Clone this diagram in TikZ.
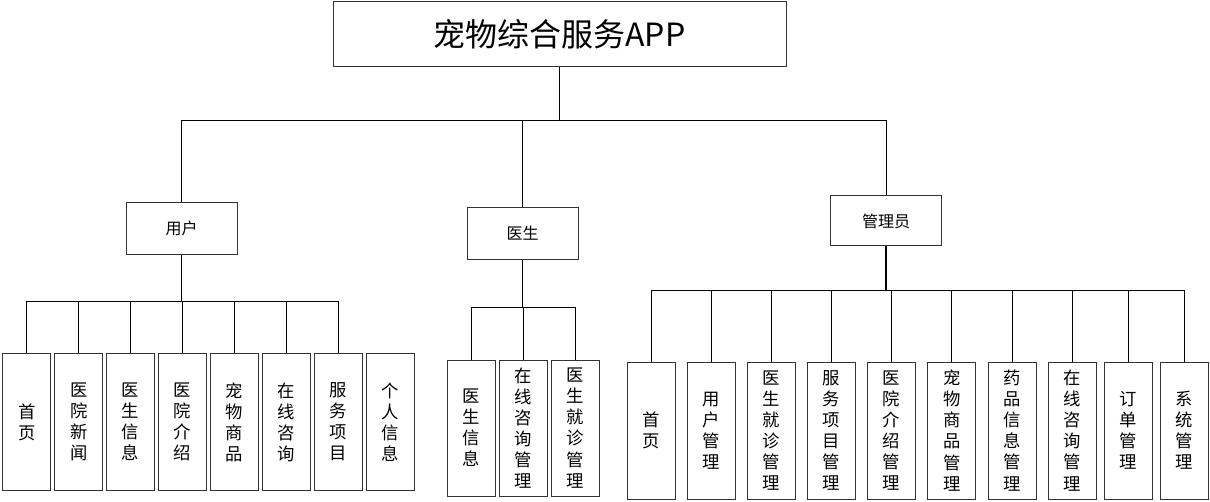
\documentclass[tikz,border=0pt]{standalone}
\usepackage{fontspec}
\setmainfont{Noto Sans CJK SC}
\begin{document}
\begin{tikzpicture}[x=0.75pt,y=-0.75pt,
  box/.style={draw=black!80,line width=0.75pt,rectangle,inner sep=0pt,align=center},
  rootbox/.style={box,minimum width=453*0.75pt,minimum height=65*0.75pt,font=\fontsize{24}{28}\selectfont},
  midbox/.style={box,minimum width=111*0.75pt,minimum height=52*0.75pt,font=\fontsize{12}{14}\selectfont},
  leaf/.style={box,minimum width=48*0.75pt,minimum height=137*0.75pt,font=\fontsize{13}{15.8}\selectfont},
  conn/.style={draw=black,line width=0.75pt},
  thick conn/.style={draw=black,line width=1.3pt}]
\useasboundingbox (0,0) rectangle (1210,502);
% root
\node[rootbox] (root) at (559.5,34.5) {宠物综合服务APP};
% level 2
\node[midbox] (user) at (181.5,228.5) {用户};
\node[midbox] (doc) at (522.5,233.5) {医生};
\node[midbox,minimum height=50*0.75pt] (adm) at (886,221) {管理员};
\coordinate (rb) at (559.5,121);
\draw[thick conn] (root.south) -- (rb);
\draw[conn] (rb) -| (user.north);
\draw[conn] (rb) -| (doc.north);
\draw[conn] (rb) -| (adm.north);
% user leaves
\node[leaf] (u1) at (26.7,422) {首\\页};
\node[leaf] (u2) at (78.7,422) {医\\院\\新\\闻};
\node[leaf] (u3) at (130.5,422) {医\\生\\信\\息};
\node[leaf] (u4) at (182.3,422) {医\\院\\介\\绍};
\node[leaf] (u5) at (234.2,422) {宠\\物\\商\\品};
\node[leaf] (u6) at (286,422) {在\\线\\咨\\询};
\node[leaf] (u7) at (338,422) {服\\务\\项\\目};
\node[leaf] (u8) at (390,422) {个\\人\\信\\息};
\coordinate (ub) at (181.5,301.5);
\draw[thick conn] (user.south) -- (ub);
\foreach \i in {1,...,7} \draw[conn] (ub) -| (u\i.north);
% doctor leaves
\node[leaf,minimum height=136*0.75pt] (d1) at (471,428) {医\\生\\信\\息};
\node[leaf,minimum height=136*0.75pt] (d2) at (523,428) {在\\线\\咨\\询\\管\\理};
\node[leaf,minimum height=136*0.75pt] (d3) at (575,428) {医\\生\\就\\诊\\管\\理};
\coordinate (db) at (522.5,307.5);
\draw[thick conn] (doc.south) -- (db);
\foreach \i in {1,2,3} \draw[conn] (db) -| (d\i.north);
% admin leaves
\node[leaf] (a1) at (651.5,430.5) {首\\页};
\node[leaf] (a2) at (711,430.5) {用\\户\\管\\理};
\node[leaf] (a3) at (771.3,430.5) {医\\生\\就\\诊\\管\\理};
\node[leaf] (a4) at (831.5,430.5) {服\\务\\项\\目\\管\\理};
\node[leaf] (a5) at (891.5,430.5) {医\\院\\介\\绍\\管\\理};
\node[leaf] (a6) at (951.8,430.5) {宠\\物\\商\\品\\管\\理};
\node[leaf] (a7) at (1012,430.5) {药\\品\\信\\息\\管\\理};
\node[leaf] (a8) at (1072.3,430.5) {在\\线\\咨\\询\\管\\理};
\node[leaf] (a9) at (1128.5,430.5) {订\\单\\管\\理};
\node[leaf] (a10) at (1184.5,430.5) {系\\统\\管\\理};
\coordinate (ab) at (886,290.5);
\draw[thick conn] (adm.south) -- (ab);
\foreach \i in {1,...,10} \draw[conn] (ab) -| (a\i.north);
\end{tikzpicture}
\end{document}
